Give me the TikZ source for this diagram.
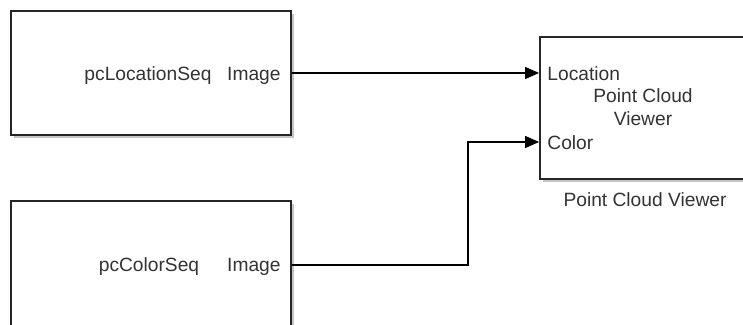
\documentclass[tikz,border=0pt]{standalone}
\usepackage{fontspec}
\setmainfont{Liberation Sans}
\usetikzlibrary{positioning, arrows.meta, calc, shadows}
\tikzset{
  block/.style={rectangle, draw=black!85, line width=0.9pt, fill=white, drop shadow={shadow xshift=1.5pt, shadow yshift=-1.5pt, opacity=0.5, fill=black!45}},
  lbl/.style={inner sep=0pt, text=black!80},
  arrow/.style={line width=0.6pt, -{Triangle[length=7pt, width=6pt]}}
}

\begin{document}
\begin{tikzpicture}[x=0.5pt, y=-0.5pt, every node/.style={font=\fontsize{9.6}{11.5}\selectfont}]
    \clip (0,0) rectangle (743,325);

    % Sources
    \node (loc) [block, minimum width=140pt, minimum height=62pt] at (151,73) {};
    \node (locname) [lbl, anchor=base] at (148,81) {pcLocationSeq};
    \node (locimg) [lbl, anchor=base east] at (281,81) {Image};

    \node (col) [block, minimum width=140pt, minimum height=64pt] at (151,265) {};
    \node (colname) [lbl, anchor=base] at (149,272) {pcColorSeq};
    \node (colimg) [lbl, anchor=base east] at (281,272) {Image};

    % Viewer
    \node (viewer) [block, minimum width=105pt, minimum height=71pt] at (645,108) {};
    \node (vtitle) [lbl, align=center] at (643,107) {Point Cloud\\Viewer};
    \node (vloclbl) [lbl, anchor=base west] at (547,81) {Location};
    \node (vcollbl) [lbl, anchor=base west] at (547,150) {Color};
    \node (vname) [lbl, below=6pt of viewer] {Point Cloud Viewer};

    \coordinate (vloc) at (viewer.west |- loc.east);
    \coordinate (vcol) at ($(viewer.west)+(0,34)$);

    % Arrows
    \draw [arrow] (loc.east) -- (vloc);
    \draw [arrow] (col.east) -- ++(176,0) |- (vcol);

\end{tikzpicture}
\end{document}
